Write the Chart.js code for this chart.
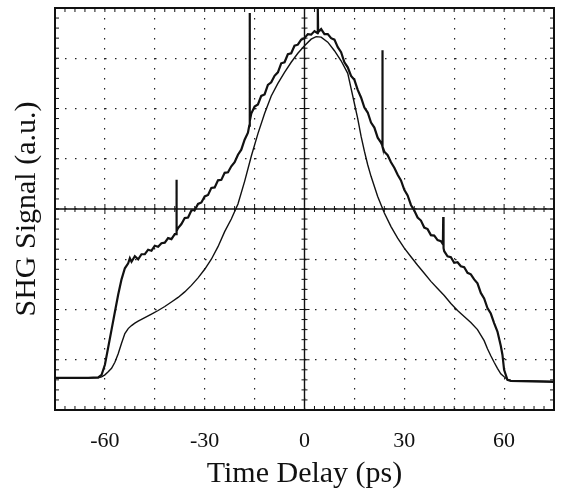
<!DOCTYPE html>
<html lang="en">
  <head>
    <meta charset="UTF-8">
    <title>SHG Signal</title>
    <style>
      body { margin: 0; background: #fff; }
      canvas { display: block; }
    </style>
  </head>
  <body>
    <canvas id="myChart" width="563" height="495"></canvas>

    <script src="https://cdn.jsdelivr.net/npm/chart.js"></script>
    <script>
      // time delay (ps) and signal (a.u.), broad noisy curve
      const wideT = [-75, -65, -62, -61, -60, -59, -58, -57, -56, -55, -54, -53, -52.5, -52, -51, -50, -49, -48, -47, -46,
        -45, -44, -43, -42, -41, -40, -39, -38.6, -38.5, -38.4, -38, -37, -36, -35, -34, -33, -32, -31, -30,
        -29, -28, -27, -26, -25, -24, -23, -22, -21, -20, -19, -18, -17, -16.6, -16.5, -16.4, -16, -15, -14,
        -13, -12, -11, -10, -9, -8, -7, -6, -5, -4, -3, -2, -1, 0, 1, 2, 3, 3.9, 4, 4.1, 5, 6, 7, 8, 9,
        10, 11, 12, 13, 14, 15, 16, 17, 18, 19, 20, 21, 22, 23, 23.3, 23.4, 23.5, 24, 25, 26, 27, 28, 29,
        30, 31, 32, 33, 34, 35, 36, 37, 38, 39, 40, 41, 41.6, 41.7, 41.8, 42, 43, 44, 45, 46, 47, 48, 49,
        50, 51, 52, 53, 54, 55, 56, 57, 58, 59, 59.5, 60, 61, 62, 75];
      const wideV = [0.64, 0.64, 0.65, 0.7, 0.9, 1.25, 1.6, 1.95, 2.3, 2.6, 2.82, 2.92, 3.02, 2.95, 3.06, 3.0, 3.1, 3.1, 3.19, 3.17,
        3.27, 3.25, 3.32, 3.33, 3.42, 3.4, 3.5, 3.5, 4.58, 3.56, 3.62, 3.7, 3.82, 3.83, 3.97, 3.98, 4.1, 4.13, 4.25,
        4.28, 4.42, 4.43, 4.57, 4.58, 4.72, 4.73, 4.85, 4.93, 5.08, 5.18, 5.38, 5.52, 5.66, 7.9, 5.75, 5.9, 6.04, 6.08,
        6.25, 6.28, 6.47, 6.52, 6.65, 6.72, 6.9, 6.92, 7.08, 7.1, 7.25, 7.27, 7.37, 7.4, 7.48, 7.47, 7.54, 7.5, 8.0, 7.52, 7.58, 7.48, 7.48, 7.4, 7.37,
        7.22, 7.12, 6.92, 6.82, 6.65, 6.57, 6.37, 6.22, 6.02, 5.92, 5.72, 5.62, 5.42, 5.32, 5.28, 7.16, 5.24, 5.14, 5.07, 4.93, 4.82, 4.68, 4.57,
        4.38, 4.27, 4.08, 3.97, 3.83, 3.77, 3.63, 3.6, 3.48, 3.47, 3.38, 3.36, 3.3, 3.84, 3.22, 3.16, 3.06, 3.04, 2.93, 2.94, 2.86, 2.84, 2.73,
        2.7, 2.6, 2.52, 2.33, 2.22, 2.03, 1.92, 1.73, 1.56, 1.28, 1.1, 0.8, 0.6, 0.58, 0.56];

      // narrower smooth curve
      const narrowT = [-75, -62, -61, -60, -59, -58, -57, -56, -55, -54, -53, -52, -51, -50, -48, -46, -44, -42, -40, -38,
        -36, -34, -32, -30, -28, -26, -24, -22, -20, -18, -16, -14, -12, -10, -8, -6, -4, -2, 0, 2, 3.5, 5, 7,
        9, 11, 13, 14, 15, 16, 17, 18, 19, 20, 22, 24, 26, 28, 30, 32, 34, 36, 38, 40, 42, 44, 46, 48, 50,
        52, 54, 55, 56, 57, 58, 59, 60, 61, 62, 75];
      const narrowV = [0.64, 0.64, 0.66, 0.7, 0.76, 0.83, 0.95, 1.12, 1.33, 1.52, 1.62, 1.68, 1.73, 1.77, 1.84, 1.91, 1.98, 2.06, 2.15, 2.24,
        2.35, 2.48, 2.63, 2.8, 3.0, 3.25, 3.55, 3.8, 4.1, 4.55, 5.05, 5.5, 5.9, 6.25, 6.5, 6.72, 6.92, 7.1, 7.25, 7.38, 7.43, 7.42, 7.32,
        7.15, 6.95, 6.7, 6.4, 6.1, 5.8, 5.45, 5.15, 4.88, 4.65, 4.25, 3.92, 3.65, 3.42, 3.22, 3.05, 2.88, 2.72, 2.56, 2.42, 2.28, 2.12, 1.98, 1.86, 1.74,
        1.6, 1.38, 1.22, 1.08, 0.95, 0.83, 0.72, 0.66, 0.61, 0.59, 0.57];

      const xTickLabels = [-60, -30, 0, 30, 60];

      const pts = (t, v) => t.map((x, i) => ({ x: x, y: v[i] }));
      const serif = "'Liberation Serif', 'DejaVu Serif', serif";

      // scope frame, centre crosshair and the little division ticks
      const scopeMarks = {
        id: "scopeMarks",
        beforeDatasetsDraw(chart) {
          const { ctx, chartArea: a, scales: { x, y } } = chart;
          ctx.save();
          ctx.strokeStyle = "#111";
          const x0 = x.getPixelForValue(0), y0 = y.getPixelForValue(4);
          ctx.lineWidth = 1.4;
          ctx.beginPath();
          ctx.moveTo(a.left, y0); ctx.lineTo(a.right, y0);
          ctx.moveTo(x0, a.top); ctx.lineTo(x0, a.bottom);
          ctx.stroke();
          ctx.lineWidth = 1;
          ctx.beginPath();
          for (let t = -75; t <= 75; t += 3) {
            const px = x.getPixelForValue(t);
            const len = t % 15 === 0 ? 5 : 3;
            ctx.moveTo(px, y0 - len); ctx.lineTo(px, y0 + len);
            ctx.moveTo(px, a.top); ctx.lineTo(px, a.top + 4);
            ctx.moveTo(px, a.bottom); ctx.lineTo(px, a.bottom - 4);
          }
          for (let k = 0; k <= 40; k++) {
            const py = y.getPixelForValue(k * 0.2);
            const len = k % 5 === 0 ? 5 : 3;
            ctx.moveTo(x0 - len, py); ctx.lineTo(x0 + len, py);
            ctx.moveTo(a.left, py); ctx.lineTo(a.left + 4, py);
            ctx.moveTo(a.right, py); ctx.lineTo(a.right - 4, py);
          }
          ctx.stroke();
          ctx.lineWidth = 2;
          ctx.strokeRect(a.left, a.top, a.right - a.left, a.bottom - a.top);
          ctx.restore();
        }
      };

      const ctx = document.getElementById("myChart");
      const chart = new Chart(ctx, {
        type: "scatter",
        data: {
          datasets: [
            { data: pts(wideT, wideV), showLine: true, borderColor: "#111", borderWidth: 2.2, pointRadius: 0, tension: 0 },
            { data: pts(narrowT, narrowV), showLine: true, borderColor: "#111", borderWidth: 1.4, pointRadius: 0, tension: 0 }
          ]
        },
        options: {
          responsive: false,
          animation: false,
          layout: { padding: { top: 8, right: 0, left: 0, bottom: 0 } },
          plugins: { legend: { display: false }, tooltip: { enabled: false } },
          scales: {
            x: {
              type: "linear", min: -75, max: 75,
              afterFit: (s) => { s.height = 85; s.paddingRight = 9; },
              ticks: {
                stepSize: 15, padding: 18, color: "#111",
                font: { family: serif, size: 22 },
                callback: (v) => xTickLabels.includes(v) ? String(v) : ""
              },
              grid: { color: "#222", lineWidth: 1.2, drawTicks: false },
              border: { display: false, dash: [1.5, 8.5] },
              title: { display: true, text: "Time Delay (ps)", color: "#111",
                font: { family: serif, size: 30 }, padding: { top: 0, bottom: 3 } }
            },
            y: {
              min: 0, max: 8,
              afterFit: (s) => { s.width = 55; },
              ticks: { stepSize: 1, display: false },
              grid: { color: "#222", lineWidth: 1.2, drawTicks: false },
              border: { display: false, dash: [1.5, 8.5] },
              title: { display: true, text: "SHG Signal (a.u.)", color: "#111",
                font: { family: serif, size: 30 }, padding: { top: 9, bottom: 0 } }
            }
          }
        },
        plugins: [scopeMarks]
      });
    </script>
  </body>
</html>
